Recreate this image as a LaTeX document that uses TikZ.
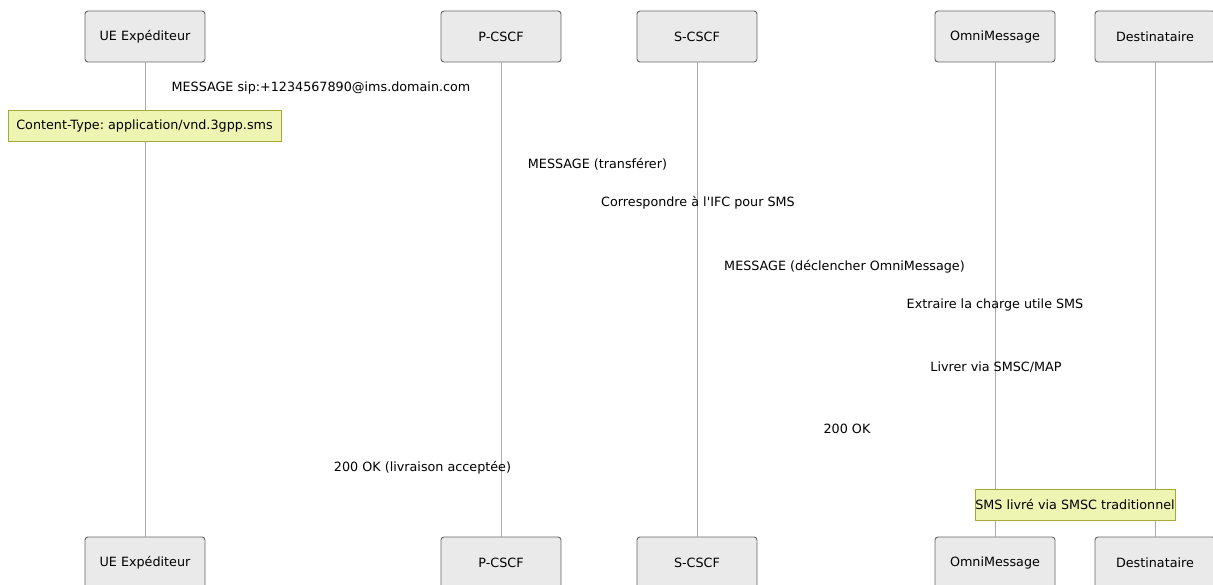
\documentclass[tikz,border=0pt]{standalone}
\usepackage{fontspec}
\setmainfont{DejaVu Sans}
\frenchspacing
\definecolor{actfill}{HTML}{EAEAEA}
\definecolor{actline}{HTML}{666666}
\definecolor{lifeline}{HTML}{AAAAAA}
\definecolor{notefill}{HTML}{EEF4B2}
\definecolor{noteline}{HTML}{A8A838}

\tikzset{
  actor/.style={draw=actline, line width=0.9pt, fill=actfill, rounded corners=3pt, minimum width=120pt, minimum height=51pt, inner sep=0pt, font=\fontsize{12.75}{15}\selectfont},
  msg/.style={font=\fontsize{12.75}{15}\selectfont, inner sep=0pt},
  note/.style={draw=noteline, line width=0.9pt, fill=notefill, minimum height=31pt, inner sep=0pt, font=\fontsize{12.75}{15}\selectfont},
  life/.style={draw=lifeline, line width=1pt}
}

\begin{document}
\begin{tikzpicture}[x=1pt, y=-1pt]
\useasboundingbox (0,0) rectangle (1213,585);
% participants, top and bottom
\node[actor] (ueT) at(145, 36.5) {UE Expéditeur};
\node[actor] (pT) at(501, 36.5) {P-CSCF};
\node[actor] (sT) at(697, 36.5) {S-CSCF};
\node[actor] (oT) at(995, 36.5) {OmniMessage};
\node[actor] (dT) at(1155, 36.5) {Destinataire};
\node[actor] (ueB) at(145, 562.5) {UE Expéditeur};
\node[actor] (pB) at(501, 562.5) {P-CSCF};
\node[actor] (sB) at(697, 562.5) {S-CSCF};
\node[actor] (oB) at(995, 562.5) {OmniMessage};
\node[actor] (dB) at(1155, 562.5) {Destinataire};
% lifelines
\foreach \a in {ue, p, s, o, d}
  \draw[life] (\a T.south) -- (\a B.north);
% messages
\node[msg] (m1) at(321, 88) {MESSAGE sip:+1234567890@ims.domain.com};
\node[note, minimum width=273pt] (n1) at(144.5, 125.5) {Content-Type: application/vnd.3gpp.sms};
\node[msg] (m2) at(597.5, 164) {MESSAGE (transférer)};
\node[msg] (m3) at(698, 203) {Correspondre à l\textquotesingle IFC pour SMS};
\node[msg] (m4) at(844.5, 267) {MESSAGE (déclencher OmniMessage)};
\node[msg] (m5) at(995, 305) {Extraire la charge utile SMS};
\node[msg] (m6) at(996, 367) {Livrer via SMSC/MAP};
\node[msg] (m7) at(847, 429) {200 OK};
\node[msg] (m8) at(422.5, 468) {200 OK (livraison acceptée)};
\node[note, minimum width=200pt] (n2) at(1075, 504.5) {SMS livré via SMSC traditionnel};
\end{tikzpicture}
\end{document}
